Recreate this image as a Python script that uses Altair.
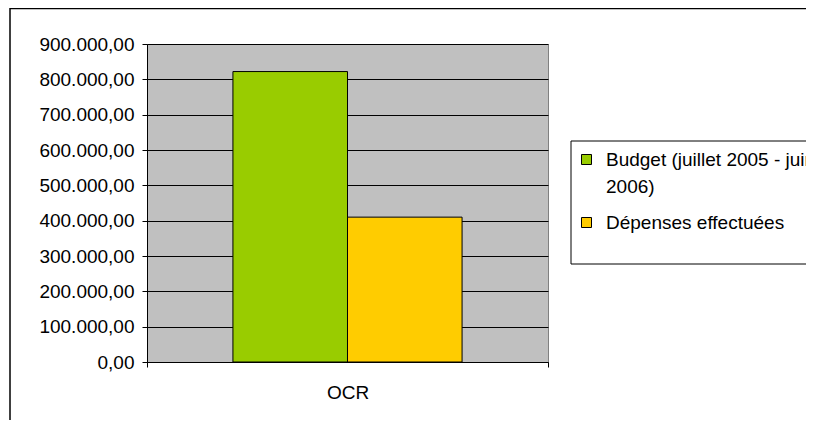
import altair as alt
import pandas as pd

# ---- data ----
categories = ["OCR"]
series = ["Budget (juillet 2005 - juin 2006)", "Dépenses effectuées"]
values = [822000, 410000]
colors = ["#99CC00", "#FFCC00"]
y_ticks = [0, 100000, 200000, 300000, 400000, 500000, 600000, 700000, 800000, 900000]
wrapped_label = ["Budget (juillet 2005 - juin", "2006)"]

df = pd.DataFrame({
    "cat": [categories[0]] * len(series),
    "series": series,
    "value": values,
})

FONT = "Liberation Sans"
FS = 19

y_label_expr = (
    "replace(replace(replace(format(datum.value, ',.2f'), regexp(',', 'g'), '_'),"
    " regexp('\\\\.', 'g'), ','), regexp('_', 'g'), '.')"
)
legend_label_expr = (
    "datum.label == '" + series[0] + "' ? ['" + wrapped_label[0] + "', '" + wrapped_label[1] + "'] : datum.label"
)

bars = alt.Chart(df).mark_bar(stroke="black", strokeWidth=1).encode(
    x=alt.X(
        "cat:N", sort=categories,
        scale=alt.Scale(paddingInner=0, paddingOuter=0),
        axis=alt.Axis(title=None, labelAngle=0, tickBand="extent", domainColor="black",
                      domainWidth=1, tickColor="black", tickSize=5, labelPadding=16,
                      labelFont=FONT, labelFontSize=FS, labelColor="black", grid=False),
    ),
    xOffset=alt.XOffset("series:N", sort=series,
                        scale=alt.Scale(paddingInner=0, paddingOuter=0.75)),
    y=alt.Y(
        "value:Q",
        scale=alt.Scale(domain=[0, 900000], nice=False),
        axis=alt.Axis(title=None, values=y_ticks, labelExpr=y_label_expr, grid=True,
                      gridColor="black", gridWidth=1, gridOpacity=1, domainColor="black",
                      domainWidth=1, tickColor="black", tickSize=5, labelPadding=8,
                      labelFont=FONT, labelFontSize=FS, labelColor="black"),
    ),
    color=alt.Color(
        "series:N", sort=series,
        scale=alt.Scale(domain=series, range=colors),
        legend=alt.Legend(title=None, orient="none", legendX=430, legendY=106, padding=0,
                          symbolType="square", symbolSize=100, symbolStrokeColor="black",
                          symbolStrokeWidth=1, symbolOpacity=1, labelFont=FONT,
                          labelFontSize=FS, labelColor="black", labelLimit=600,
                          labelOffset=10, rowPadding=16, labelExpr=legend_label_expr),
    ),
)

one = pd.DataFrame({"k": [0]})

# outer chart frame (only its top and left sides are inside the picture)
frame_top = alt.Chart(one).mark_rule(color="black", strokeWidth=1.5).encode(
    x=alt.value(-137), x2=alt.value(1000), y=alt.value(-35.5)
)
frame_left = alt.Chart(one).mark_rule(color="black", strokeWidth=1.5).encode(
    x=alt.value(-137), y=alt.value(-36), y2=alt.value(800)
)

# legend box (runs off the right edge)
legend_fill = alt.Chart(one).mark_rect(fill="white", strokeWidth=0).encode(
    x=alt.value(424), x2=alt.value(1000), y=alt.value(97), y2=alt.value(220)
)
legend_top = alt.Chart(one).mark_rule(color="black", strokeWidth=1).encode(
    x=alt.value(424), x2=alt.value(1000), y=alt.value(97)
)
legend_bottom = alt.Chart(one).mark_rule(color="black", strokeWidth=1).encode(
    x=alt.value(424), x2=alt.value(1000), y=alt.value(220)
)
legend_left = alt.Chart(one).mark_rule(color="black", strokeWidth=1).encode(
    x=alt.value(424), y=alt.value(97), y2=alt.value(220)
)

chart = alt.layer(
    frame_top, frame_left, bars, legend_fill, legend_top, legend_bottom, legend_left
).properties(
    width=401,
    height=318,
    autosize=alt.AutoSizeParams(type="none"),
    padding={"left": 139, "top": 36, "right": 258, "bottom": 58},
    background="white",
).configure(
    style={"guide-label": {"lineHeight": 27}}
).configure_view(
    stroke="#808080", fill="#C0C0C0"
)

chart.save("out.html", embed_options={"renderer": "svg", "actions": False})
